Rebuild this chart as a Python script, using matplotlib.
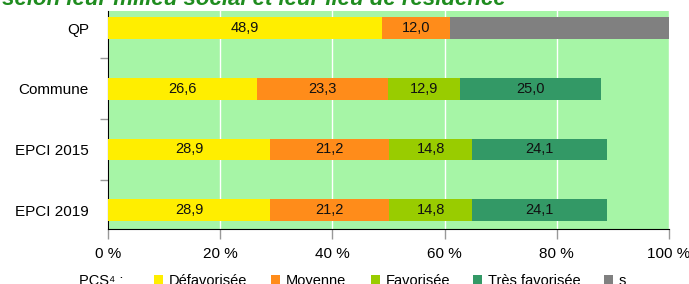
import matplotlib
matplotlib.use("Agg")
import matplotlib.pyplot as plt
from matplotlib.patches import Rectangle

categories = ["QP", "Commune", "EPCI 2015", "EPCI 2019"]
series_names = ["Défavorisée", "Moyenne", "Favorisée", "Très favorisée", "s"]
values = {
    "Défavorisée": [48.9, 26.6, 28.9, 28.9],
    "Moyenne": [12.0, 23.3, 21.2, 21.2],
    "Favorisée": [0.0, 12.9, 14.8, 14.8],
    "Très favorisée": [0.0, 25.0, 24.1, 24.1],
    "s": [39.1, 0.0, 0.0, 0.0],
}
show_label = {"Défavorisée": True, "Moyenne": True, "Favorisée": True, "Très favorisée": True, "s": False}
colors = {"Défavorisée": "#FFEE00", "Moyenne": "#FF8C1A", "Favorisée": "#99CC00",
          "Très favorisée": "#339966", "s": "#808080"}
xticks = [0, 20, 40, 60, 80, 100]
xtick_labels = ["0 %", "20 %", "40 %", "60 %", "80 %", "100 %"]
title = "Répartition des élèves selon leur milieu social et leur lieu de résidence"

plt.rcParams['font.family'] = ['Liberation Sans', 'DejaVu Sans']

fig = plt.figure(figsize=(6.89, 2.84), dpi=100)
ax = fig.add_axes([108/689, 1-229/284, (669-108)/689, (229-11)/284])
ax.set_facecolor("#A6F5A6")

ypos = [3, 2, 1, 0]
left = [0.0]*4
for name in series_names:
    vals = values[name]
    ax.barh(ypos, vals, left=left, height=0.36, color=colors[name], zorder=3)
    if show_label[name]:
        for y, l, v in zip(ypos, left, vals):
            if v > 0:
                ax.text(l + v/2, y, f"{v:.1f}".replace(".", ","), ha="center", va="center",
                        fontsize=10.5, color="#111111", zorder=4)
    left = [a + b for a, b in zip(left, vals)]

ax.set_xlim(0, 100)
ax.set_ylim(-0.31, 3.28)
ax.set_xticks(xticks)
ax.set_xticklabels(xtick_labels, fontsize=11)
ax.set_yticks(ypos)
ax.set_yticklabels(categories, fontsize=11)
ax.set_yticks([0.5, 1.5, 2.5], minor=True)
ax.tick_params(axis="y", which="major", length=0, pad=13.7)
ax.tick_params(axis="y", which="minor", length=6, color="#999999", width=1)
ax.tick_params(axis="x", length=7.2, color="#999999", width=1, pad=6)
ax.grid(axis="x", color="white", linewidth=1, zorder=1)
for s in ["top", "right"]:
    ax.spines[s].set_visible(False)
ax.spines["left"].set_color("black")
ax.spines["bottom"].set_color("black")

fig.text(506/689, 1.0 - 4.5/284, title, fontsize=16, fontweight="bold", style="italic",
         color="#1F8C1F", ha="right", va="baseline")

# legend row
ly = 1 - 281/284
fig.text(79/689, ly, "PCS⁴ :", fontsize=10.5, ha="left", va="center")
leg_x = [154, 271, 371, 473, 604]
for name, x in zip(series_names, leg_x):
    fig.patches.append(Rectangle((x/689, ly - 5/284), 9/689, 11/284, transform=fig.transFigure,
                                 facecolor=colors[name], edgecolor="none"))
    fig.text((x + 15)/689, ly, name, fontsize=10.5, ha="left", va="center")

fig.savefig("out.png", dpi=100)
